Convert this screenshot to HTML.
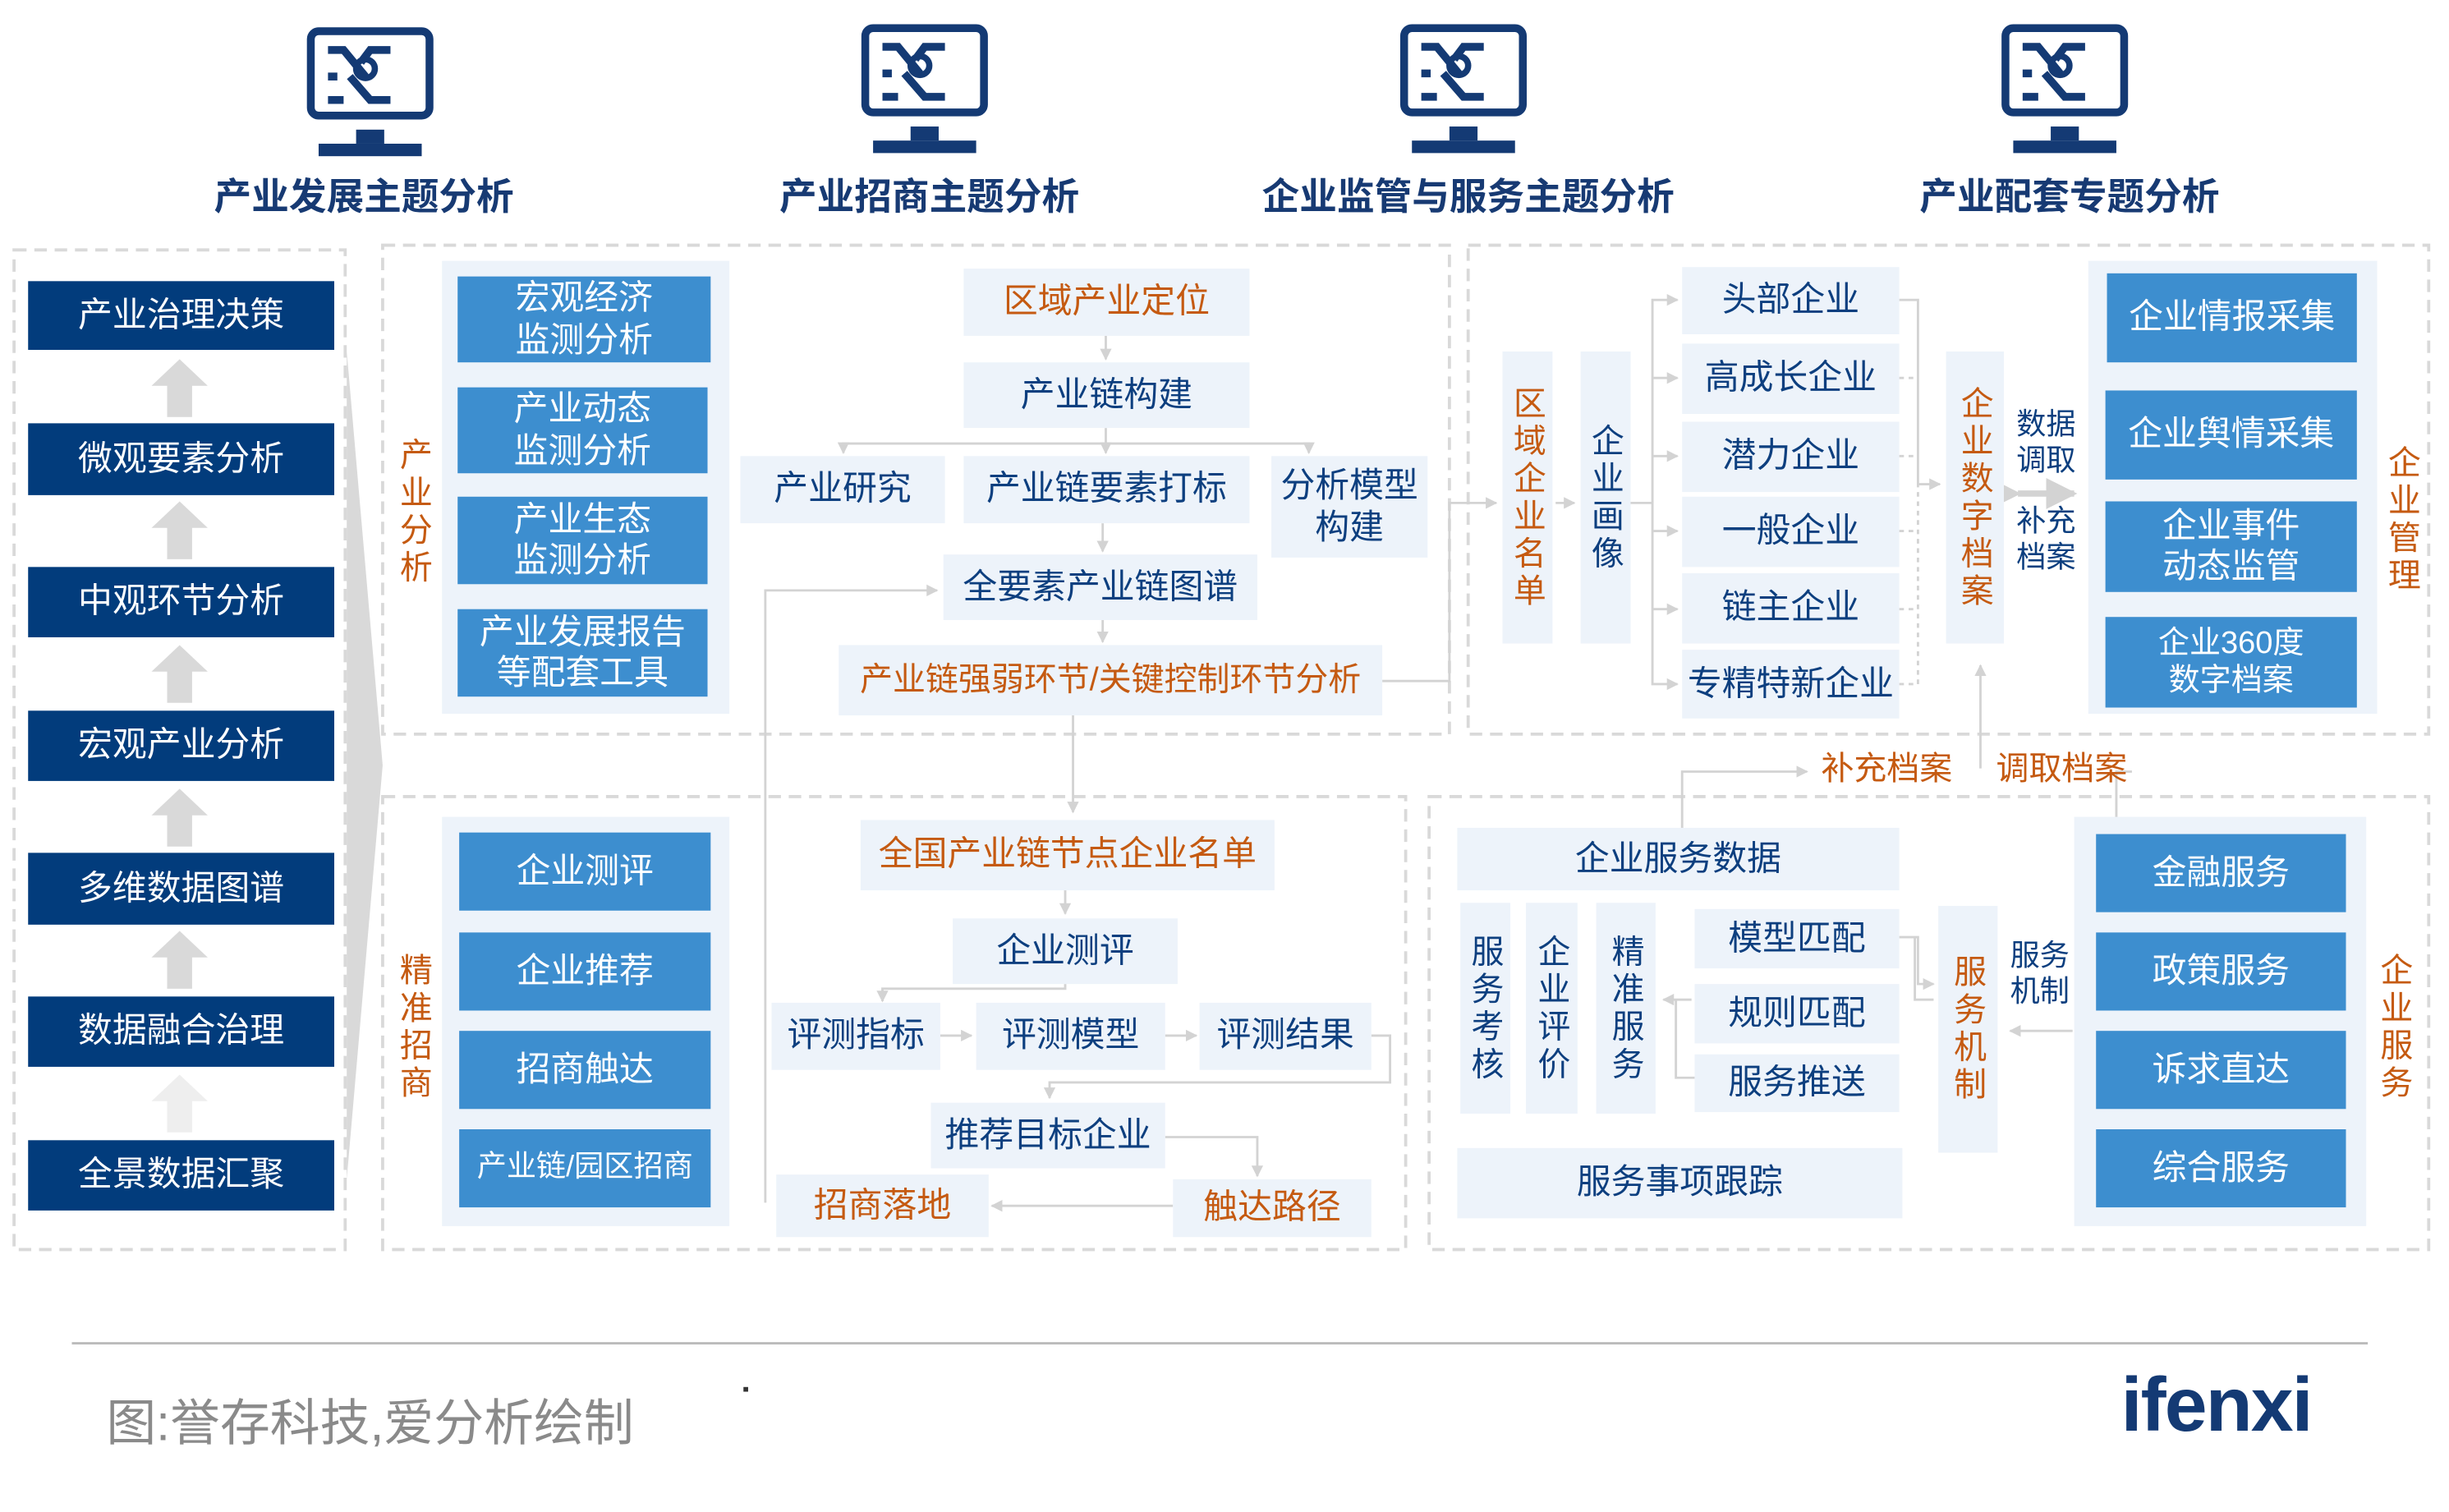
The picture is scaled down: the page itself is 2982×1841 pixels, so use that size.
<!DOCTYPE html>
<html><head><meta charset="utf-8"><style>
html,body{margin:0;padding:0;background:#fff;overflow:hidden}
#w{position:absolute;left:0;top:0;width:1568px;height:968px;transform:scale(1.9018);transform-origin:0 0;font-family:"Liberation Sans","Noto Sans CJK SC",sans-serif}
.b{position:absolute;display:flex;align-items:center;justify-content:center;text-align:center;line-height:1.2;font-size:22px;box-sizing:border-box;white-space:nowrap}
.L{background:#edf3fa;color:#0d3f7f}
.M{background:#3d8ecf;color:#fff}
.D{background:#023c7c;color:#fff}
.O{color:#c55a11}
.N{color:#0d3f7f}
.v{writing-mode:vertical-rl;letter-spacing:3px;font-size:21px;line-height:1}
.t{position:absolute;font-weight:bold;color:#173a73;font-size:24px;text-align:center;width:360px}
svg{position:absolute;left:0;top:0}
</style></head><body><div id="w">
<svg width="1568" height="968" viewBox="0 0 1568 968">
<defs>
<marker id="a" viewBox="0 0 10 10" refX="9" refY="5" markerWidth="5" markerHeight="5" orient="auto"><path d="M0,0L10,5L0,10z" fill="#d3d3d3"/></marker>
<g id="mon">
<rect x="-38" y="2" width="76" height="54" rx="5" fill="none" stroke="#143a74" stroke-width="5"/>
<path d="M-27,14h10l14,17M13,14h-13l-6,8M-27,46h10M13,46h-13l-13,-15M-27,31h6" fill="none" stroke="#143a74" stroke-width="5"/>
<circle cx="-3" cy="26" r="6" fill="none" stroke="#143a74" stroke-width="4"/>
<rect x="-9" y="65" width="18" height="9" fill="#143a74"/><rect x="-33" y="74" width="66" height="8" fill="#143a74"/>
</g>
</defs>
<use href="#mon" x="237" y="18"/><use href="#mon" x="592" y="16"/><use href="#mon" x="937" y="16"/><use href="#mon" x="1322" y="16"/>
<g fill="none" stroke="#d9d9d9" stroke-width="2" stroke-dasharray="8 5">
<rect x="9" y="160" width="212" height="640"/>
<rect x="245" y="157" width="683" height="313"/>
<rect x="940" y="157" width="615" height="313"/>
<rect x="245" y="510" width="655" height="290"/>
<rect x="915" y="510" width="640" height="290"/>
</g>
<polygon points="222,225 245,490 222,755" fill="#d9d9d9"/>
<g fill="#d9d9d9">
<path d="M107,267v-20h-10l18,-17l18,17h-10v20z"/>
<path d="M107,358v-20h-10l18,-17l18,17h-10v20z"/>
<path d="M107,450v-20h-10l18,-17l18,17h-10v20z"/>
<path d="M107,542v-20h-10l18,-17l18,17h-10v20z"/>
<path d="M107,633v-20h-10l18,-17l18,17h-10v20z"/>
<path d="M107,725v-20h-10l18,-17l18,17h-10v20z" fill="#eee"/>
</g>
<g fill="none" stroke="#d3d3d3" stroke-width="1.5" marker-end="url(#a)">
<path d="M708,215v15"/>
<path d="M708,274v10h-168v6"/>
<path d="M708,284h130v6"/>
<path d="M708,284v6"/>
<path d="M706,335v18"/>
<path d="M706,397v14"/>
<path d="M490,770v-392h110"/>
<path d="M885,436h43v-114h30"/>
<path d="M687,458v62"/>
<path d="M996,322h12"/>
<path d="M1044,322h14v-130h16"/>
<path d="M1058,242h16"/><path d="M1058,292h16"/><path d="M1058,340h16"/><path d="M1058,390h16"/><path d="M1058,322v116h16"/>
<path d="M1216,192h12v118h14"/>
<path d="M682,570v15"/>
<path d="M682,630v3h-117v8"/>
<path d="M602,663h20"/><path d="M746,663h20"/>
<path d="M878,663h12v30h-218v10"/>
<path d="M746,728h59v25"/>
<path d="M751,772h-116"/>
<path d="M1077,530v-36h80"/>
<path d="M1268,492v-66"/>
<path d="M1365,494h-10v84h-25"/>
<path d="M1327,660h-40"/>
<path d="M1083,640h-18"/>
<path d="M1216,600h12v30h10"/>
</g>
<g fill="none" stroke="#d3d3d3" stroke-width="1.5" stroke-dasharray="3 3">
<path d="M1216,242h12"/><path d="M1216,292h12"/><path d="M1216,340h12"/><path d="M1216,390h12"/><path d="M1216,438h12v-128"/>
</g>
<g fill="none" stroke="#d3d3d3" stroke-width="1.5">
<path d="M1238,640h-12v-40"/>
<path d="M1085,690h-12v-50"/>
</g>
<path d="M1292,316h36" stroke="#d3d3d3" stroke-width="4" marker-end="url(#a)" marker-start="url(#a)"/>
<line x1="46" y1="860" x2="1516" y2="860" stroke="#bbb" stroke-width="1.5"/>
</svg>
<div class="t" style="left:53px;top:106px">产业发展主题分析</div>
<div class="t" style="left:415px;top:106px">产业招商主题分析</div>
<div class="t" style="left:760px;top:106px">企业监管与服务主题分析</div>
<div class="t" style="left:1145px;top:106px">产业配套专题分析</div>

<div class="b D" style="left:18px;top:180px;width:196px;height:44px">产业治理决策</div>
<div class="b D" style="left:18px;top:271px;width:196px;height:46px">微观要素分析</div>
<div class="b D" style="left:18px;top:363px;width:196px;height:45px">中观环节分析</div>
<div class="b D" style="left:18px;top:455px;width:196px;height:45px">宏观产业分析</div>
<div class="b D" style="left:18px;top:546px;width:196px;height:46px">多维数据图谱</div>
<div class="b D" style="left:18px;top:638px;width:196px;height:45px">数据融合治理</div>
<div class="b D" style="left:18px;top:730px;width:196px;height:45px">全景数据汇聚</div>

<div class="b O v" style="left:252px;top:270px;width:26px;height:115px">产业分析</div>
<div class="b" style="left:283px;top:167px;width:184px;height:290px;background:#edf3fa"></div>
<div class="b M" style="left:293px;top:177px;width:162px;height:55px">宏观经济<br>监测分析</div>
<div class="b M" style="left:293px;top:248px;width:160px;height:55px">产业动态<br>监测分析</div>
<div class="b M" style="left:293px;top:318px;width:160px;height:56px">产业生态<br>监测分析</div>
<div class="b M" style="left:293px;top:390px;width:160px;height:56px">产业发展报告<br>等配套工具</div>
<div class="b L O" style="left:617px;top:172px;width:183px;height:43px">区域产业定位</div>
<div class="b L" style="left:617px;top:232px;width:183px;height:42px">产业链构建</div>
<div class="b L" style="left:474px;top:292px;width:131px;height:43px">产业研究</div>
<div class="b L" style="left:617px;top:292px;width:183px;height:43px">产业链要素打标</div>
<div class="b L" style="left:814px;top:292px;width:100px;height:65px">分析模型<br>构建</div>
<div class="b L" style="left:604px;top:355px;width:201px;height:42px">全要素产业链图谱</div>
<div class="b L O" style="left:537px;top:413px;width:348px;height:45px;font-size:21px">产业链强弱环节/关键控制环节分析</div>

<div class="b L O v" style="left:962px;top:225px;width:32px;height:187px">区域企业名单</div>
<div class="b L v" style="left:1012px;top:225px;width:32px;height:187px">企业画像</div>
<div class="b L" style="left:1077px;top:171px;width:139px;height:43px">头部企业</div>
<div class="b L" style="left:1077px;top:220px;width:139px;height:45px">高成长企业</div>
<div class="b L" style="left:1077px;top:270px;width:139px;height:45px">潜力企业</div>
<div class="b L" style="left:1077px;top:318px;width:139px;height:45px">一般企业</div>
<div class="b L" style="left:1077px;top:367px;width:139px;height:45px">链主企业</div>
<div class="b L" style="left:1077px;top:416px;width:139px;height:44px">专精特新企业</div>
<div class="b L O v" style="left:1246px;top:225px;width:37px;height:187px">企业数字档案</div>
<div class="b N" style="left:1287px;top:260px;width:46px;height:50px;font-size:19px">数据<br>调取</div>
<div class="b N" style="left:1287px;top:322px;width:46px;height:50px;font-size:19px">补充<br>档案</div>
<div class="b" style="left:1337px;top:167px;width:185px;height:290px;background:#edf3fa"></div>
<div class="b M" style="left:1349px;top:175px;width:160px;height:57px">企业情报采集</div>
<div class="b M" style="left:1348px;top:250px;width:161px;height:57px">企业舆情采集</div>
<div class="b M" style="left:1348px;top:321px;width:161px;height:58px">企业事件<br>动态监管</div>
<div class="b M" style="left:1348px;top:395px;width:161px;height:58px;font-size:20px">企业360度<br>数字档案</div>
<div class="b O v" style="left:1525px;top:275px;width:26px;height:115px">企业管理</div>

<div class="b O" style="left:1158px;top:480px;width:100px;height:26px;font-size:21px">补充档案</div>
<div class="b O" style="left:1270px;top:480px;width:100px;height:26px;font-size:21px">调取档案</div>

<div class="b O v" style="left:252px;top:600px;width:26px;height:115px">精准招商</div>
<div class="b" style="left:283px;top:523px;width:184px;height:262px;background:#edf3fa"></div>
<div class="b M" style="left:294px;top:533px;width:161px;height:50px">企业测评</div>
<div class="b M" style="left:294px;top:597px;width:161px;height:50px">企业推荐</div>
<div class="b M" style="left:294px;top:660px;width:161px;height:50px">招商触达</div>
<div class="b M" style="left:294px;top:723px;width:161px;height:50px;font-size:19px">产业链/园区招商</div>
<div class="b L O" style="left:551px;top:525px;width:265px;height:45px">全国产业链节点企业名单</div>
<div class="b L" style="left:610px;top:588px;width:144px;height:42px">企业测评</div>
<div class="b L" style="left:494px;top:642px;width:108px;height:43px">评测指标</div>
<div class="b L" style="left:625px;top:642px;width:121px;height:43px">评测模型</div>
<div class="b L" style="left:768px;top:642px;width:110px;height:43px">评测结果</div>
<div class="b L" style="left:596px;top:706px;width:150px;height:42px">推荐目标企业</div>
<div class="b L O" style="left:497px;top:752px;width:136px;height:40px">招商落地</div>
<div class="b L O" style="left:751px;top:755px;width:127px;height:37px">触达路径</div>

<div class="b L" style="left:933px;top:530px;width:283px;height:40px">企业服务数据</div>
<div class="b L v" style="left:935px;top:578px;width:32px;height:135px">服务考核</div>
<div class="b L v" style="left:977px;top:578px;width:33px;height:135px">企业评价</div>
<div class="b L v" style="left:1022px;top:578px;width:38px;height:135px">精准服务</div>
<div class="b L" style="left:1085px;top:582px;width:131px;height:38px">模型匹配</div>
<div class="b L" style="left:1085px;top:630px;width:131px;height:38px">规则匹配</div>
<div class="b L" style="left:1085px;top:675px;width:131px;height:37px">服务推送</div>
<div class="b L O v" style="left:1241px;top:580px;width:38px;height:158px">服务机制</div>
<div class="b N" style="left:1283px;top:600px;width:46px;height:50px;font-size:19px">服务<br>机制</div>
<div class="b L" style="left:933px;top:735px;width:285px;height:45px">服务事项跟踪</div>
<div class="b" style="left:1328px;top:523px;width:187px;height:262px;background:#edf3fa"></div>
<div class="b M" style="left:1342px;top:534px;width:160px;height:50px">金融服务</div>
<div class="b M" style="left:1342px;top:597px;width:160px;height:50px">政策服务</div>
<div class="b M" style="left:1342px;top:660px;width:160px;height:50px">诉求直达</div>
<div class="b M" style="left:1342px;top:723px;width:160px;height:50px">综合服务</div>
<div class="b O v" style="left:1520px;top:610px;width:26px;height:95px">企业服务</div>

<div style="position:absolute;left:68px;top:886px;font-size:32px;color:#8a8a8a">图:誉存科技,爱分析绘制</div>
<div style="position:absolute;left:476px;top:888px;width:3px;height:3px;background:#333"></div>
<div style="position:absolute;left:1358px;top:872px;font-size:49px;font-weight:bold;color:#143a74;letter-spacing:-1px">ifenxi</div>
</div></body></html>
